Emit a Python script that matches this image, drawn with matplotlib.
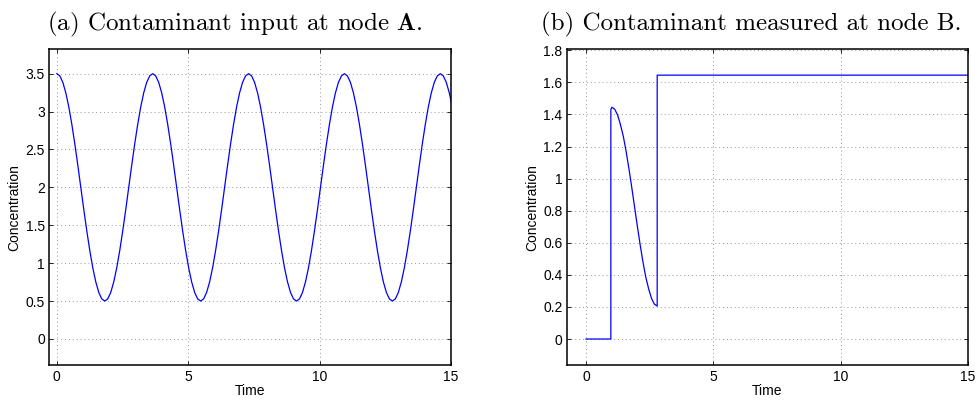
import numpy as np
import matplotlib
matplotlib.use("Agg")
import matplotlib.pyplot as plt
from matplotlib.ticker import FormatStrFormatter

t_step_a = 0.114
conc_a = [
    3.5, 3.471, 3.386, 3.247, 3.061, 2.833, 2.574, 2.293, 2.0, 1.707, 1.426, 1.167, 0.939, 0.753, 0.614, 0.529,
    0.5, 0.529, 0.614, 0.753, 0.939, 1.167, 1.426, 1.707, 2.0, 2.293, 2.574, 2.833, 3.061, 3.247, 3.386, 3.471,
    3.5, 3.471, 3.386, 3.247, 3.061, 2.833, 2.574, 2.293, 2.0, 1.707, 1.426, 1.167, 0.939, 0.753, 0.614, 0.529,
    0.5, 0.529, 0.614, 0.753, 0.939, 1.167, 1.426, 1.707, 2.0, 2.293, 2.574, 2.833, 3.061, 3.247, 3.386, 3.471,
    3.5, 3.471, 3.386, 3.247, 3.061, 2.833, 2.574, 2.293, 2.0, 1.707, 1.426, 1.167, 0.939, 0.753, 0.614, 0.529,
    0.5, 0.529, 0.614, 0.753, 0.939, 1.167, 1.426, 1.707, 2.0, 2.293, 2.574, 2.833, 3.061, 3.247, 3.386, 3.471,
    3.5, 3.471, 3.386, 3.247, 3.061, 2.833, 2.574, 2.293, 2.0, 1.707, 1.426, 1.167, 0.939, 0.753, 0.614, 0.529,
    0.5, 0.529, 0.614, 0.753, 0.939, 1.167, 1.426, 1.707, 2.0, 2.293, 2.574, 2.833, 3.061, 3.247, 3.386, 3.471,
    3.5, 3.471, 3.386, 3.247, 3.061,
]
time_a = np.arange(len(conc_a)) * t_step_a

# (b) measured at node B
time_b = [0, 0.98, 0.98, 1.02, 1.13, 1.24, 1.35, 1.47, 1.58, 1.69, 1.80, 1.91,
          2.02, 2.13, 2.24, 2.35, 2.47, 2.58, 2.69, 2.80, 2.80, 15]
conc_b = [0, 0, 1.43, 1.445, 1.433, 1.398, 1.341, 1.263, 1.169, 1.062, 0.946, 0.825,
          0.704, 0.588, 0.481, 0.387, 0.309, 0.252, 0.217, 0.205, 1.645, 1.645]

xticks = [0, 5, 10, 15]
yticks_a = np.arange(0, 3.51, 0.5)
yticks_b = np.arange(0, 1.81, 0.2)

plt.rcParams["font.family"] = ["Liberation Sans", "DejaVu Sans"]
plt.rcParams["mathtext.fontset"] = "cm"

fig = plt.figure(figsize=(9.79, 4.03), dpi=100)
ax_a = fig.add_axes([0.0500, 0.0931, 0.4107, 0.7861])
ax_b = fig.add_axes([0.5787, 0.0931, 0.4099, 0.7861])


def style(ax, yticks, xlim, ylim):
    ax.set_xlim(*xlim)
    ax.set_ylim(*ylim)
    ax.set_xticks(xticks)
    ax.set_yticks(yticks)
    ax.yaxis.set_major_formatter(FormatStrFormatter("%g"))
    ax.tick_params(direction="in", length=3, width=0.6, top=True, right=True,
                   labelsize=10, pad=3)
    ax.grid(True, ls=(0, (1, 3)), lw=0.7, color="#999999")
    for s in ax.spines.values():
        s.set_linewidth(1.1)
    ax.set_xlabel("Time", fontsize=10, labelpad=0)
    ax.set_ylabel("Concentration", fontsize=10, labelpad=3)


ax_a.plot(time_a, conc_a, color="blue", lw=0.9)
style(ax_a, yticks_a, (-0.3, 15), (-0.35, 3.83))

ax_b.plot(time_b, conc_b, color="blue", lw=0.9)
style(ax_b, yticks_b, (-0.76, 15), (-0.165, 1.81))

fig.text(234.5 / 979, 1 - 30 / 403, r"(a) Contaminant input at node $\mathbf{A}$.",
         family="cmr10", fontsize=18, ha="center", va="baseline")
fig.text(751 / 979, 1 - 30 / 403, "(b) Contaminant measured at node B.",
         family="cmr10", fontsize=18, ha="center", va="baseline")

fig.savefig("out.png", dpi=100)
